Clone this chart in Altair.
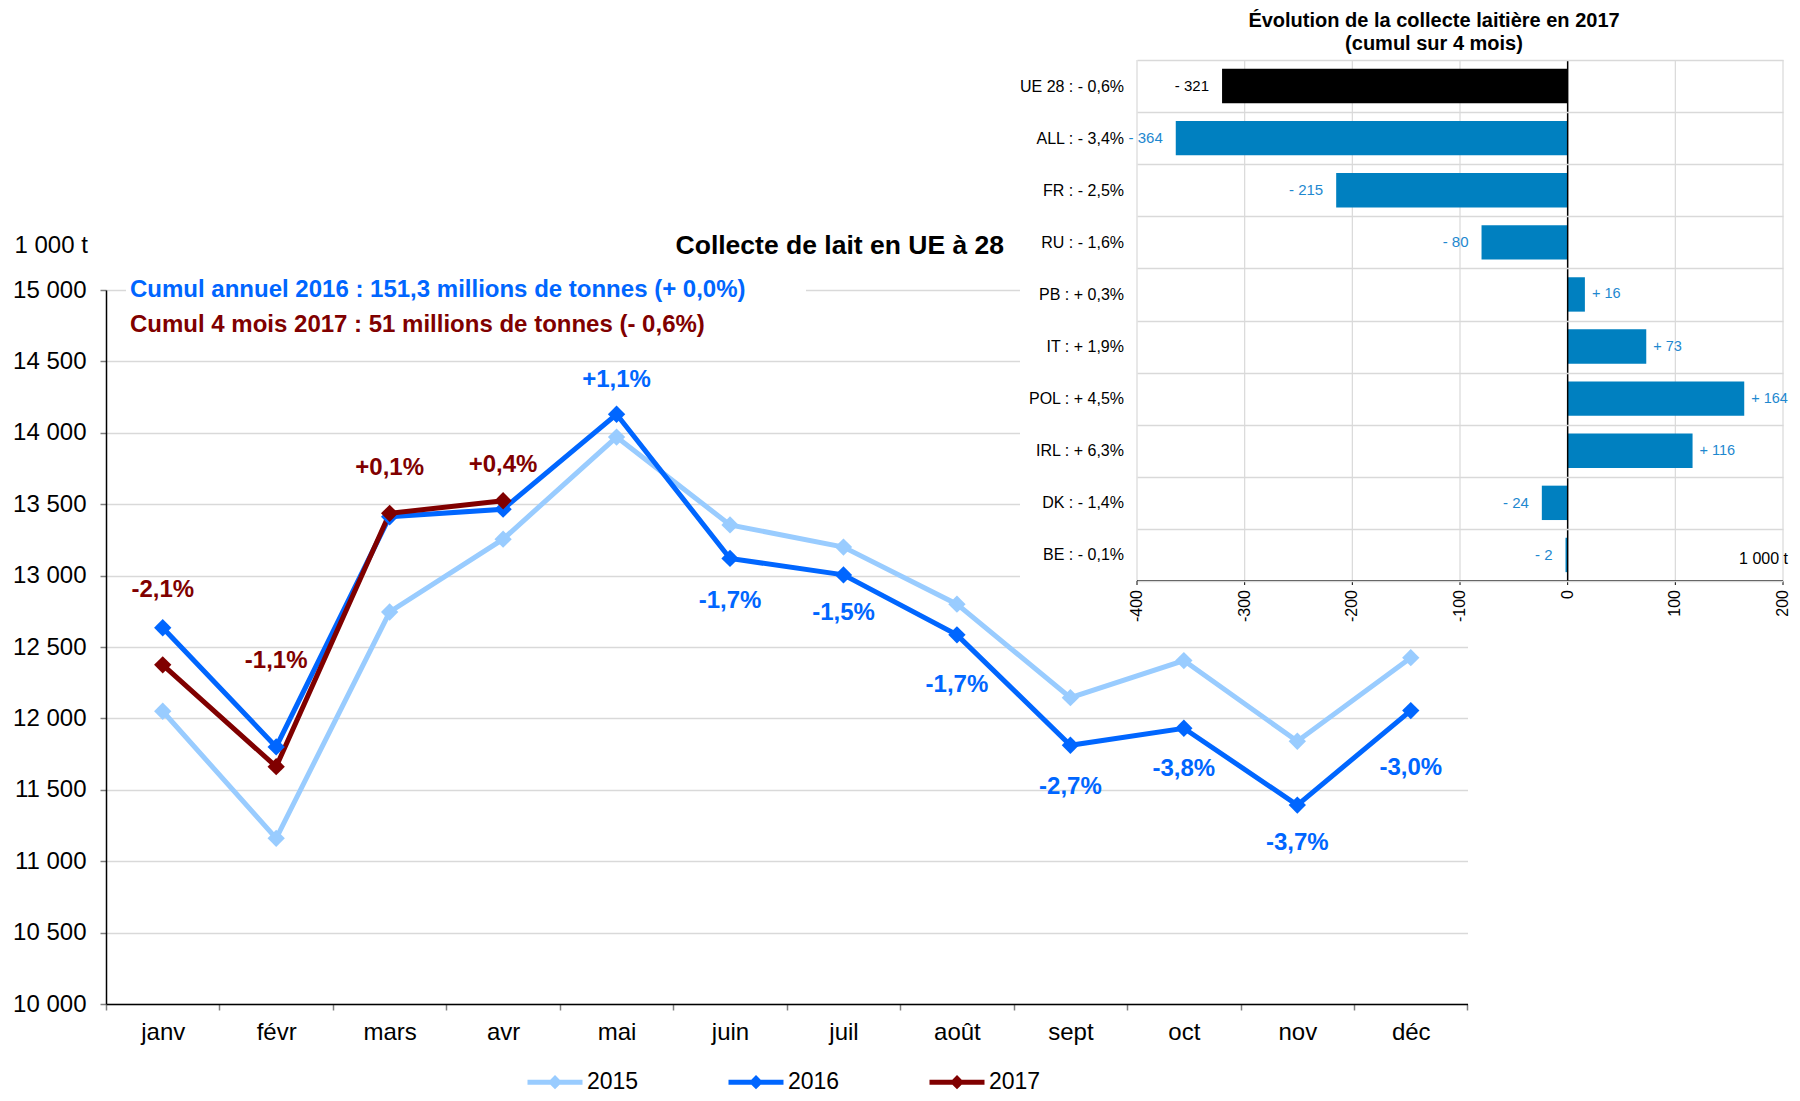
import altair as alt
import pandas as pd

FONT = "Liberation Sans"

# ---------------- data ----------------
months = ['janv', 'févr', 'mars', 'avr', 'mai', 'juin', 'juil', 'août', 'sept', 'oct', 'nov', 'déc']
years = ['2015', '2016', '2017']
v2015 = [12050, 11160, 12745, 13255, 13970, 13355, 13200, 12800, 12145, 12405, 11840, 12425]
v2016 = [12635, 11800, 13412, 13465, 14130, 13120, 13005, 12585, 11812, 11931, 11393, 12055]
v2017 = [12375, 11662, 13436, 13524]

label_text = ['-2,1%', '-1,1%', '+0,1%', '+0,4%', '+1,1%', '-1,7%', '-1,5%', '-1,7%',
              '-2,7%', '-3,8%', '-3,7%', '-3,0%']
label_year = ['2017', '2017', '2017', '2017', '2016', '2016', '2016', '2016',
              '2016', '2016', '2016', '2016']

y_ticks = [10000, 10500, 11000, 11500, 12000, 12500, 13000, 13500, 14000, 14500, 15000]

inset_codes = ['UE 28', 'ALL', 'FR', 'RU', 'PB', 'IT', 'POL', 'IRL', 'DK', 'BE']
inset_pct = ['- 0,6%', '- 3,4%', '- 2,5%', '- 1,6%', '+ 0,3%', '+ 1,9%', '+ 4,5%', '+ 6,3%', '- 1,4%', '- 0,1%']
inset_values = [-321, -364, -215, -80, 16, 73, 164, 116, -24, -2]
inset_ticks = [-400, -300, -200, -100, 0, 100, 200]

# ---------------- styles / layout ----------------
label_dy = [-75, -106, -45, -36, -34, 43, 38, 50, 42, 41, 38, 57]   # pixel offsets of the % labels
series_colors = ['#99CCFF', '#0066FF', '#800000']
BAR_BLUE = '#0080C0'
LABEL_BLUE = '#1E88CF'
GRID = '#D9D9D9'

Y_DOMAIN = [10000, 15000]
Y_RANGE = [996, 282]
UNITS_PER_PX = (Y_DOMAIN[1] - Y_DOMAIN[0]) / (Y_RANGE[0] - Y_RANGE[1])

IN_DOMAIN = [-400, 200]
IN_RANGE = [1129, 1775]
IN_TOP, IN_BOTTOM = 52, 573

# ---------------- tables ----------------
main_rows = []
for year, vals in (('2015', v2015), ('2016', v2016), ('2017', v2017)):
    for i, v in enumerate(vals):
        main_rows.append({'mois': months[i], 'idx': i, 'annee': year, 'valeur': v})
main_df = pd.DataFrame(main_rows)

lab_rows = []
for i, (t, yr) in enumerate(zip(label_text, label_year)):
    val = v2017[i] if yr == '2017' else v2016[i]
    lab_rows.append({'mois': months[i], 'annee': yr, 'valeur': val, 'texte': t, 'dy': label_dy[i]})
lab_df = pd.DataFrame(lab_rows)

pays_labels = [f"{c} : {p}" for c, p in zip(inset_codes, inset_pct)]
inset_df = pd.DataFrame({
    'code': inset_codes,
    'pays': pays_labels,
    'valeur': inset_values,
    'etiquette': [f"- {abs(v)}" if v < 0 else f"+ {v}" for v in inset_values],
})
tick_df = pd.DataFrame({'valeur': inset_ticks, 'lab': [str(t) for t in inset_ticks]})
grid_df = pd.DataFrame({'valeur': [t for t in inset_ticks if t != 0]})
zero_df = pd.DataFrame({'valeur': [0]})
domain_df = pd.DataFrame({'valeur': [IN_DOMAIN[0]], 'fin': [IN_DOMAIN[1]]})

# ---------------- main chart ----------------
color_scale = alt.Scale(domain=years, range=series_colors)

x_main = alt.X('mois:N', bandPosition=0.5,
               scale=alt.Scale(type='band', domain=months, range=[98, 1459.5],
                               paddingInner=0, paddingOuter=0),
               axis=alt.Axis(orient='bottom', offset=-89, title=None, tickBand='extent', grid=False,
                             domainColor='black', domainWidth=1.5, tickColor='#808080',
                             tickWidth=1.5, tickSize=6, labelFont=FONT, labelFontSize=24,
                             labelColor='black', labelPadding=10, labelAngle=0))

y_axis = alt.Axis(orient='left', offset=-98, values=y_ticks,
                  labelExpr="replace(format(datum.value, ','), ',', ' ')",
                  grid=True, gridColor=GRID, gridWidth=1.5,
                  domainColor='black', domainWidth=1.5, tickColor='#808080',
                  tickSize=6, tickWidth=1.5, labelFont=FONT, labelFontSize=24,
                  labelColor='black', labelPadding=14,
                  title='1 000 t', titleAngle=0, titleAlign='left', titleBaseline='middle',
                  titleX=-92, titleY=237, titleFont=FONT, titleFontSize=24,
                  titleFontWeight='normal', titleColor='black')
y_scale = alt.Scale(domain=Y_DOMAIN, range=Y_RANGE, nice=False, zero=False)
y_main = alt.Y('valeur:Q', scale=y_scale, axis=y_axis)

LEGEND_PATH = "M-1,0L1,0M0,-0.13L0.13,0L0,0.13L-0.13,0Z"

lines = alt.Chart(main_df).mark_line(strokeWidth=5).encode(
    x=x_main, y=y_main,
    order=alt.Order('idx:Q'),
    color=alt.Color('annee:N', scale=color_scale,
                    legend=alt.Legend(title=None, orient='none', legendX=517, legendY=1044,
                                      direction='horizontal', symbolType=LEGEND_PATH,
                                      symbolSize=3025, symbolStrokeWidth=5, symbolOpacity=1,
                                      labelFont=FONT, labelFontSize=23, labelColor='black',
                                      labelOffset=2, columnPadding=79, padding=0)),
)

points = alt.Chart(main_df).mark_point(shape='diamond', filled=True, size=300, opacity=1).encode(
    x=x_main, y=y_main,
    color=alt.Color('annee:N', scale=color_scale, legend=None),
)

pct_labels = alt.Chart(lab_df).transform_calculate(
    ly=f"datum.valeur - datum.dy * {UNITS_PER_PX}"
).mark_text(fontSize=24, fontWeight='bold', font=FONT, align='center', baseline='middle').encode(
    x=x_main,
    y=alt.Y('ly:Q', scale=y_scale, axis=y_axis),
    text='texte:N',
    color=alt.Color('annee:N', scale=color_scale, legend=None),
)

main = alt.layer(lines, points, pct_labels)

one = alt.Data(values=[{}])

cumul_box = alt.Chart(one).mark_rect(color='white').encode(
    x=alt.value(118), x2=alt.value(798), y=alt.value(265), y2=alt.value(336))
main_title = alt.Chart(one).mark_text(font=FONT, fontSize=26.5, fontWeight='bold', color='black',
                                      align='right', baseline='middle').encode(
    x=alt.value(996), y=alt.value(238), text=alt.value('Collecte de lait en UE à 28'))
cumul1 = alt.Chart(one).mark_text(font=FONT, fontSize=24, fontWeight='bold', color='#0066FF',
                                  align='left', baseline='middle').encode(
    x=alt.value(122), y=alt.value(282),
    text=alt.value('Cumul annuel 2016 : 151,3 millions de tonnes (+ 0,0%)'))
cumul2 = alt.Chart(one).mark_text(font=FONT, fontSize=24, fontWeight='bold', color='#800000',
                                  align='left', baseline='middle').encode(
    x=alt.value(122), y=alt.value(317),
    text=alt.value('Cumul 4 mois 2017 : 51 millions de tonnes (- 0,6%)'))

# ---------------- inset bar chart ----------------
in_scale = alt.Scale(domain=IN_DOMAIN, range=IN_RANGE, nice=False, zero=False)
x_in = alt.X('valeur:Q', scale=in_scale, axis=None)

y_in = alt.Y('pays:N',
             scale=alt.Scale(type='band', domain=pays_labels, range=[IN_TOP, IN_BOTTOM],
                             paddingInner=0, paddingOuter=0),
             axis=alt.Axis(orient='left', offset=-IN_RANGE[0], domain=False, ticks=False,
                           tickBand='extent', grid=True, gridColor=GRID, gridWidth=1.5,
                           labelFont=FONT, labelFontSize=16, labelColor='black',
                           labelPadding=13.5, title=None, zindex=1))

bar_color = alt.condition(alt.datum.code == 'UE 28', alt.value('black'), alt.value(BAR_BLUE))
lab_color = alt.condition(alt.datum.code == 'UE 28', alt.value('black'), alt.value(LABEL_BLUE))

inset_bg = alt.Chart(one).mark_rect(color='white').encode(
    x=alt.value(1012), x2=alt.value(1784), y=alt.value(0), y2=alt.value(627))

vgrid = alt.Chart(grid_df).mark_rule(color=GRID, strokeWidth=1.2).encode(
    x=x_in, y=alt.value(IN_TOP), y2=alt.value(IN_BOTTOM))

bars = alt.Chart(inset_df).mark_bar(height={'band': 0.66}).encode(
    x=x_in, x2=alt.datum(0), y=y_in, color=bar_color)

zero_line = alt.Chart(zero_df).mark_rule(color='black', strokeWidth=1.5).encode(
    x=x_in, y=alt.value(IN_TOP), y2=alt.value(IN_BOTTOM))

axis_line = alt.Chart(domain_df).mark_rule(color='black', strokeWidth=1.5).encode(
    x=x_in, x2='fin:Q', y=alt.value(IN_BOTTOM))

axis_ticks = alt.Chart(tick_df).mark_rule(color='black', strokeWidth=1).encode(
    x=x_in, y=alt.value(IN_BOTTOM), y2=alt.value(IN_BOTTOM + 4))

axis_labels = alt.Chart(tick_df).mark_text(angle=270, align='right', baseline='middle',
                                           fontSize=16, font=FONT, color='black').encode(
    x=x_in, y=alt.value(IN_BOTTOM + 9), text='lab:N')

neg_labels = alt.Chart(inset_df).transform_filter('datum.valeur < 0').mark_text(
    align='right', baseline='middle', dx=-13, fontSize=15, font=FONT).encode(
    x=x_in, y=y_in, text='etiquette:N', color=lab_color)

pos_labels = alt.Chart(inset_df).transform_filter('datum.valeur >= 0').mark_text(
    align='left', baseline='middle', dx=7, fontSize=14.5, font=FONT).encode(
    x=x_in, y=y_in, text='etiquette:N', color=lab_color)

inset_unit = alt.Chart(one).mark_text(font=FONT, fontSize=16, color='black',
                                      align='right', baseline='middle').encode(
    x=alt.value(1780), y=alt.value(551), text=alt.value('1 000 t'))
inset_t1 = alt.Chart(one).mark_text(font=FONT, fontSize=20, fontWeight='bold', color='black',
                                    align='center', baseline='alphabetic').encode(
    x=alt.value(1426), y=alt.value(19), text=alt.value('Évolution de la collecte laitière en 2017'))
inset_t2 = alt.Chart(one).mark_text(font=FONT, fontSize=20, fontWeight='bold', color='black',
                                    align='center', baseline='alphabetic').encode(
    x=alt.value(1426), y=alt.value(42), text=alt.value('(cumul sur 4 mois)'))

inset = alt.layer(vgrid, bars, zero_line, axis_line, axis_ticks, axis_labels, neg_labels, pos_labels)

chart = alt.layer(
    main, cumul_box, main_title, cumul1, cumul2, inset_bg, inset, inset_unit, inset_t1, inset_t2
).resolve_scale(
    x='independent', y='independent'
).properties(
    width=1784, height=1085, padding=0,
    autosize=alt.AutoSizeParams(type='none'),
).configure(
    background='white'
).configure_view(
    stroke=None
)

chart.save("out.html", embed_options={"renderer": "svg", "actions": False})
